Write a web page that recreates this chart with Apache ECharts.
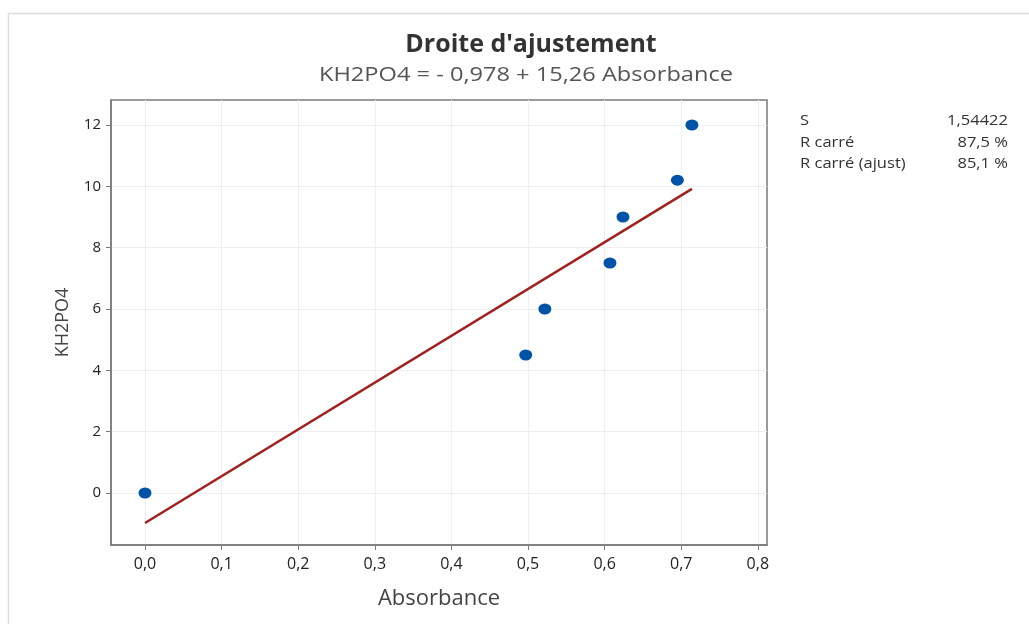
<!DOCTYPE html>
<html>
<head>
<meta charset="utf-8">
<script src="https://cdn.jsdelivr.net/npm/echarts@6/dist/echarts.min.js"></script>
<style>
  html, body { margin: 0; padding: 0; background: #fff; }
  #chart { width: 1029px; height: 624px; }
</style>
</head>
<body>
<div id="chart"></div>
<script>
// Measured samples: absorbance vs KH2PO4 concentration
const absorbance = [0.0, 0.497, 0.522, 0.607, 0.624, 0.695, 0.714];
const kh2po4 = [0, 4.5, 6.0, 7.5, 9.0, 10.2, 12.0];

// Least-squares fit reported in the subtitle
const intercept = -0.978;
const slope = 15.26;

const xTicks = [0, 0.1, 0.2, 0.3, 0.4, 0.5, 0.6, 0.7, 0.8];
const yTicks = [0, 2, 4, 6, 8, 10, 12];

const statNames = ['S', 'R carré', 'R carré (ajust)'];
const statValues = ['1,54422', '87,5 %', '85,1 %'];

const points = absorbance.map((x, i) => [x, kh2po4[i]]);
const xMin = Math.min(...absorbance);
const xMax = Math.max(...absorbance);
const fitLine = [[xMin, intercept + slope * xMin], [xMax, intercept + slope * xMax]];

const fmt = v => v.toFixed(1).replace('.', ',');
const FONT = '"Open Sans", "Noto Sans", sans-serif';
const WIDE = 1.18;  // horizontal stretch used for the header and summary texts

// Summary statistics block at the right of the plot
const statRowsY = [121.5, 143, 164.5];
const statGraphics = [];
statNames.forEach((name, i) => {
  statGraphics.push({
    type: 'text', x: 800, y: statRowsY[i], scaleX: WIDE,
    style: { text: name, fill: '#333', font: '14px ' + FONT, align: 'left', verticalAlign: 'middle' }
  });
  statGraphics.push({
    type: 'text', x: 1008, y: statRowsY[i], scaleX: WIDE,
    style: { text: statValues[i], fill: '#333', font: '14px ' + FONT, align: 'right', verticalAlign: 'middle' }
  });
});

const chart = echarts.init(document.getElementById('chart'));
chart.setOption({
  backgroundColor: '#fff',
  animation: false,
  title: {
    text: "Droite d'ajustement",
    left: 526, top: 27, textAlign: 'center',
    textStyle: { fontFamily: FONT, fontSize: 25, fontWeight: 'bold', color: '#333' }
  },
  graphic: [
    {
      type: 'rect', z: -1,
      shape: { x: 8.5, y: 13.5, width: 1040, height: 640 },
      style: { fill: 'none', stroke: '#dcdcdc', lineWidth: 1.5 }
    },
    {
      type: 'text', x: 526, y: 75, scaleX: WIDE,
      style: {
        text: 'KH2PO4 = - 0,978 + 15,26 Absorbance',
        fill: '#555', font: '20px ' + FONT, align: 'center', verticalAlign: 'middle'
      }
    },
    ...statGraphics
  ],
  grid: {
    left: 111, top: 100, right: 262, bottom: 79,
    show: true, borderColor: '#7a7a7a', borderWidth: 1.5, backgroundColor: '#fff'
  },
  xAxis: {
    type: 'value',
    min: -0.0444, max: 0.812,
    name: 'Absorbance', nameLocation: 'middle', nameGap: 43,
    nameTextStyle: { fontFamily: FONT, fontSize: 22, color: '#444' },
    axisLine: { show: true, onZero: false, lineStyle: { color: '#7a7a7a', width: 1.5 } },
    axisTick: { show: true, length: 5, lineStyle: { color: '#7a7a7a' }, customValues: xTicks },
    axisLabel: { customValues: xTicks, formatter: fmt, fontFamily: FONT, fontSize: 16, color: '#222', margin: 11 },
    splitLine: { show: true, lineStyle: { color: '#efefef', width: 1 } }
  },
  yAxis: {
    type: 'value',
    min: -1.696, max: 12.815,
    name: 'KH2PO4', nameLocation: 'middle', nameGap: 39,
    nameTextStyle: { fontFamily: FONT, fontSize: 18, color: '#444' },
    axisLine: { show: true, onZero: false, lineStyle: { color: '#7a7a7a', width: 1.5 } },
    axisTick: { show: true, length: 5, lineStyle: { color: '#7a7a7a' }, customValues: yTicks },
    axisLabel: { customValues: yTicks, fontFamily: FONT, fontSize: 15, color: '#222', margin: 10 },
    splitLine: { show: true, lineStyle: { color: '#efefef', width: 1 } }
  },
  series: [
    {
      type: 'line',
      data: fitLine,
      symbol: 'none',
      lineStyle: { color: '#a0211f', width: 2.5 },
      z: 2
    },
    {
      type: 'scatter',
      data: points,
      symbol: 'circle',
      symbolSize: [13, 11],
      itemStyle: { color: '#0053a6', opacity: 1 },
      z: 3
    }
  ]
});
</script>
</body>
</html>
